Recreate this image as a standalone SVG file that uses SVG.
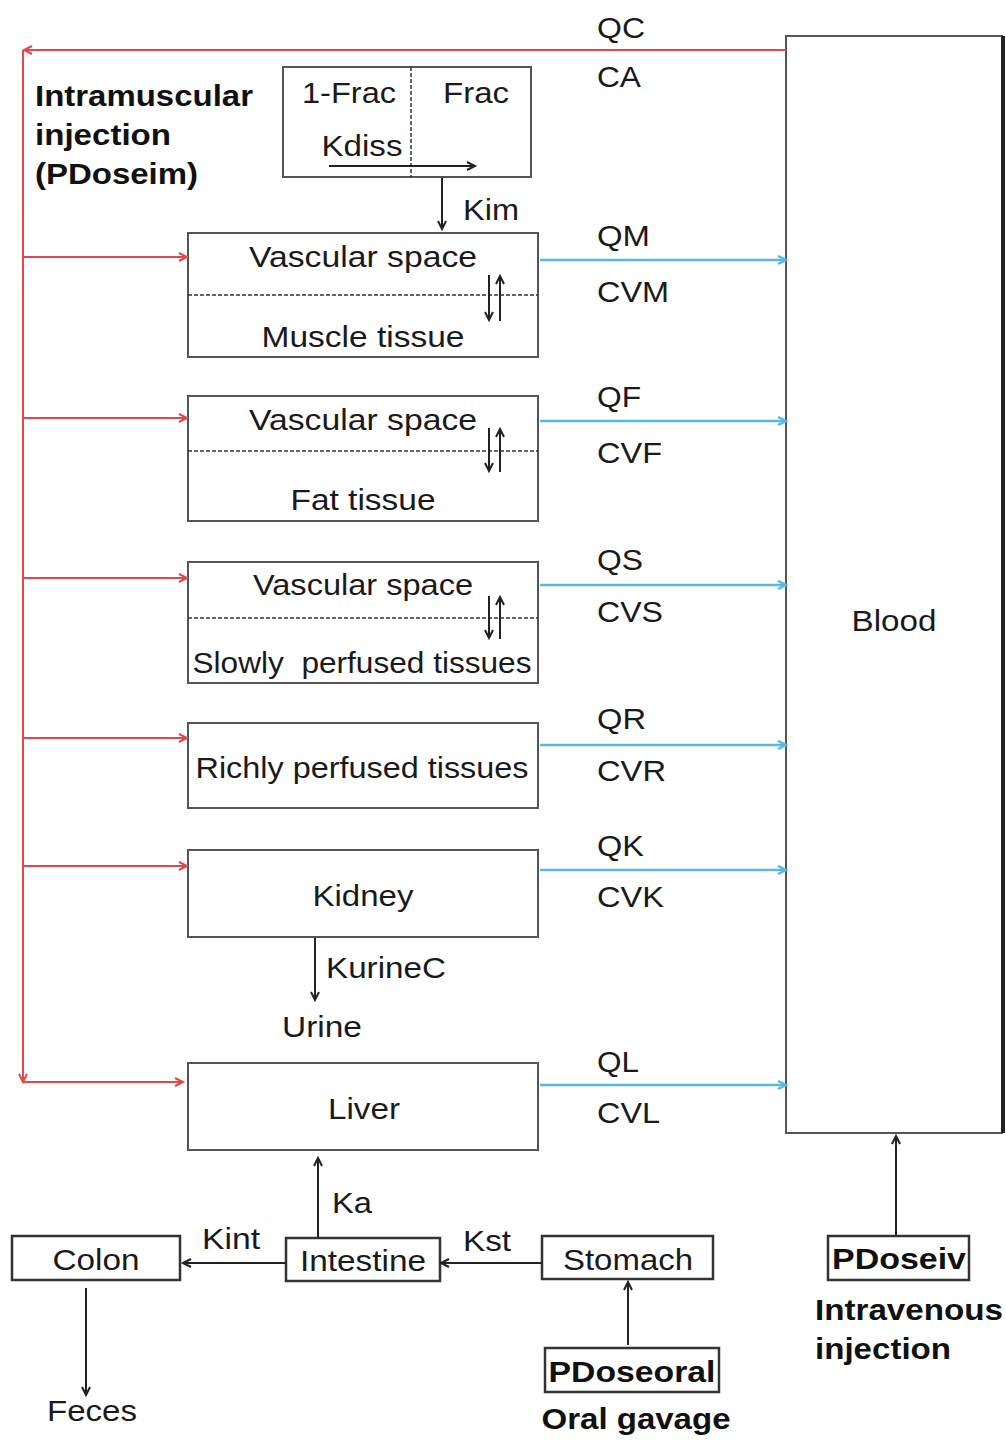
<svg xmlns="http://www.w3.org/2000/svg" width="1006" height="1440" viewBox="0 0 1006 1440">
<style>
.t{font-family:"Liberation Sans",Arial,sans-serif;font-size:29px;fill:#1a1a1a}
.b{font-family:"Liberation Sans",Arial,sans-serif;font-size:29px;font-weight:bold;fill:#111}
.m{text-anchor:middle}
.box{fill:#fff;stroke:#555;stroke-width:2}
.sbox{fill:#fff;stroke:#333;stroke-width:2.5}
.dash{stroke:#333;stroke-width:1.5;stroke-dasharray:4,2;fill:none}
.red{stroke:#e2474a;stroke-width:2;fill:none}
.blue{stroke:#5ab8e0;stroke-width:2.5;fill:none}
.blk{stroke:#222;stroke-width:2;fill:none}
</style>
<defs>
<marker id="ar" markerUnits="userSpaceOnUse" markerWidth="12" markerHeight="12" refX="9" refY="5" orient="auto"><path d="M1,1 L9,5 L1,9" fill="none" stroke="#e2474a" stroke-width="2"/></marker>
<marker id="ab" markerUnits="userSpaceOnUse" markerWidth="12" markerHeight="12" refX="9" refY="5" orient="auto"><path d="M1,1 L9,5 L1,9" fill="none" stroke="#5ab8e0" stroke-width="2.5"/></marker>
<marker id="ak" markerUnits="userSpaceOnUse" markerWidth="12" markerHeight="12" refX="9" refY="5" orient="auto"><path d="M1,1 L9,5 L1,9" fill="none" stroke="#222" stroke-width="2"/></marker>
</defs>

<g id="blood">
<rect class="box" x="786" y="36" width="216" height="1097"/>
<line x1="1003" y1="36" x2="1003" y2="1133" stroke="#222" stroke-width="4"/>
<text class="t m" x="894" y="631" textLength="85" lengthAdjust="spacingAndGlyphs">Blood</text>
</g>

<g id="im-label">
<text class="b" x="35" y="106" textLength="218" lengthAdjust="spacingAndGlyphs">Intramuscular</text>
<text class="b" x="35" y="145" textLength="136" lengthAdjust="spacingAndGlyphs">injection</text>
<text class="b" x="35" y="184" textLength="163" lengthAdjust="spacingAndGlyphs">(PDoseim)</text>
</g>

<g id="frac">
<rect class="box" x="283" y="67" width="248" height="110"/>
<line class="dash" x1="411" y1="67" x2="411" y2="177"/>
<text class="t m" x="349" y="103" textLength="94" lengthAdjust="spacingAndGlyphs">1-Frac</text>
<text class="t m" x="476" y="103" textLength="66" lengthAdjust="spacingAndGlyphs">Frac</text>
<text class="t m" x="362" y="156" textLength="81" lengthAdjust="spacingAndGlyphs">Kdiss</text>
<line class="blk" x1="329" y1="166" x2="475" y2="166" marker-end="url(#ak)"/>
</g>

<g id="muscle">
<rect class="box" x="188" y="233" width="350" height="124"/>
<line class="dash" x1="188" y1="295" x2="538" y2="295"/>
<text class="t m" x="363" y="267" textLength="228" lengthAdjust="spacingAndGlyphs">Vascular space</text>
<text class="t m" x="363" y="347" textLength="203" lengthAdjust="spacingAndGlyphs">Muscle tissue</text>
<line class="blk" x1="489" y1="275" x2="489" y2="320" marker-end="url(#ak)"/>
<line class="blk" x1="500" y1="321" x2="500" y2="276" marker-end="url(#ak)"/>
</g>

<g id="fat">
<rect class="box" x="188" y="396" width="350" height="125"/>
<line class="dash" x1="188" y1="451" x2="538" y2="451"/>
<text class="t m" x="363" y="430" textLength="228" lengthAdjust="spacingAndGlyphs">Vascular space</text>
<text class="t m" x="363" y="510" textLength="145" lengthAdjust="spacingAndGlyphs">Fat tissue</text>
<line class="blk" x1="489" y1="428" x2="489" y2="471" marker-end="url(#ak)"/>
<line class="blk" x1="500" y1="472" x2="500" y2="429" marker-end="url(#ak)"/>
</g>

<g id="slowly">
<rect class="box" x="188" y="562" width="350" height="121"/>
<line class="dash" x1="188" y1="618" x2="538" y2="618"/>
<text class="t m" x="363" y="595" textLength="220" lengthAdjust="spacingAndGlyphs">Vascular space</text>
<text class="t m" x="362" y="673" textLength="339" lengthAdjust="spacingAndGlyphs">Slowly&#160; perfused tissues</text>
<line class="blk" x1="489" y1="596" x2="489" y2="638" marker-end="url(#ak)"/>
<line class="blk" x1="500" y1="639" x2="500" y2="597" marker-end="url(#ak)"/>
</g>

<g id="richly">
<rect class="box" x="188" y="723" width="350" height="85"/>
<text class="t m" x="362" y="778" textLength="333" lengthAdjust="spacingAndGlyphs">Richly perfused tissues</text>
</g>

<g id="kidney">
<rect class="box" x="188" y="850" width="350" height="87"/>
<text class="t m" x="363" y="906" textLength="101" lengthAdjust="spacingAndGlyphs">Kidney</text>
</g>

<g id="urine">
<text class="t m" x="322" y="1037" textLength="80" lengthAdjust="spacingAndGlyphs">Urine</text>
</g>

<g id="liver">
<rect class="box" x="188" y="1063" width="350" height="87"/>
<text class="t m" x="364" y="1119" textLength="72" lengthAdjust="spacingAndGlyphs">Liver</text>
</g>

<g id="colon">
<rect class="sbox" x="12" y="1236" width="168" height="44"/>
<text class="t m" x="96" y="1270" textLength="87" lengthAdjust="spacingAndGlyphs">Colon</text>
</g>

<g id="intestine">
<rect class="sbox" x="286" y="1238" width="154" height="43"/>
<text class="t m" x="363" y="1271" textLength="126" lengthAdjust="spacingAndGlyphs">Intestine</text>
</g>

<g id="stomach">
<rect class="sbox" x="542" y="1236" width="171" height="43"/>
<text class="t m" x="628" y="1270" textLength="130" lengthAdjust="spacingAndGlyphs">Stomach</text>
</g>

<g id="feces">
<text class="t m" x="92" y="1421" textLength="90" lengthAdjust="spacingAndGlyphs">Feces</text>
</g>

<g id="pdoseoral">
<rect class="sbox" x="545" y="1348" width="174" height="44"/>
<text class="b m" x="632" y="1382" textLength="167" lengthAdjust="spacingAndGlyphs">PDoseoral</text>
<text class="b m" x="636" y="1429" textLength="189" lengthAdjust="spacingAndGlyphs">Oral gavage</text>
</g>

<g id="pdoseiv">
<rect class="sbox" x="828" y="1236" width="141" height="44"/>
<text class="b m" x="899" y="1269" textLength="134" lengthAdjust="spacingAndGlyphs">PDoseiv</text>
<text class="b" x="815" y="1320" textLength="188" lengthAdjust="spacingAndGlyphs">Intravenous</text>
<text class="b" x="815" y="1359" textLength="136" lengthAdjust="spacingAndGlyphs">injection</text>
</g>

<g id="connectors">
<line class="red" x1="786" y1="50" x2="24" y2="50" marker-end="url(#ar)"/>
<line class="red" x1="23" y1="50" x2="23" y2="1082" marker-end="url(#ar)"/>
<line class="red" x1="23" y1="257" x2="187" y2="257" marker-end="url(#ar)"/>
<line class="red" x1="23" y1="418" x2="187" y2="418" marker-end="url(#ar)"/>
<line class="red" x1="23" y1="578" x2="187" y2="578" marker-end="url(#ar)"/>
<line class="red" x1="23" y1="738" x2="187" y2="738" marker-end="url(#ar)"/>
<line class="red" x1="23" y1="866" x2="187" y2="866" marker-end="url(#ar)"/>
<line class="red" x1="23" y1="1082" x2="183" y2="1082" marker-end="url(#ar)"/>

<line class="blue" x1="540" y1="260" x2="786" y2="260" marker-end="url(#ab)"/>
<line class="blue" x1="540" y1="421" x2="786" y2="421" marker-end="url(#ab)"/>
<line class="blue" x1="540" y1="585" x2="786" y2="585" marker-end="url(#ab)"/>
<line class="blue" x1="540" y1="745" x2="786" y2="745" marker-end="url(#ab)"/>
<line class="blue" x1="540" y1="870" x2="786" y2="870" marker-end="url(#ab)"/>
<line class="blue" x1="540" y1="1085" x2="786" y2="1085" marker-end="url(#ab)"/>

<line class="blk" x1="442" y1="178" x2="442" y2="229" marker-end="url(#ak)"/>
<line class="blk" x1="315" y1="938" x2="315" y2="1000" marker-end="url(#ak)"/>
<line class="blk" x1="318" y1="1237" x2="318" y2="1158" marker-end="url(#ak)"/>
<line class="blk" x1="286" y1="1263" x2="183" y2="1263" marker-end="url(#ak)"/>
<line class="blk" x1="542" y1="1263" x2="441" y2="1263" marker-end="url(#ak)"/>
<line class="blk" x1="86" y1="1288" x2="86" y2="1395" marker-end="url(#ak)"/>
<line class="blk" x1="628" y1="1345" x2="628" y2="1282" marker-end="url(#ak)"/>
<line class="blk" x1="896" y1="1235" x2="896" y2="1136" marker-end="url(#ak)"/>

<text class="t" x="597" y="38" textLength="48" lengthAdjust="spacingAndGlyphs">QC</text>
<text class="t" x="597" y="87" textLength="44" lengthAdjust="spacingAndGlyphs">CA</text>
<text class="t" x="463" y="220" textLength="56" lengthAdjust="spacingAndGlyphs">Kim</text>
<text class="t" x="597" y="246" textLength="53" lengthAdjust="spacingAndGlyphs">QM</text>
<text class="t" x="597" y="302" textLength="72" lengthAdjust="spacingAndGlyphs">CVM</text>
<text class="t" x="597" y="407" textLength="44" lengthAdjust="spacingAndGlyphs">QF</text>
<text class="t" x="597" y="463" textLength="65" lengthAdjust="spacingAndGlyphs">CVF</text>
<text class="t" x="597" y="570" textLength="46" lengthAdjust="spacingAndGlyphs">QS</text>
<text class="t" x="597" y="622" textLength="66" lengthAdjust="spacingAndGlyphs">CVS</text>
<text class="t" x="597" y="729" textLength="49" lengthAdjust="spacingAndGlyphs">QR</text>
<text class="t" x="597" y="781" textLength="69" lengthAdjust="spacingAndGlyphs">CVR</text>
<text class="t" x="597" y="856" textLength="47" lengthAdjust="spacingAndGlyphs">QK</text>
<text class="t" x="597" y="907" textLength="67" lengthAdjust="spacingAndGlyphs">CVK</text>
<text class="t" x="326" y="978" textLength="120" lengthAdjust="spacingAndGlyphs">KurineC</text>
<text class="t" x="597" y="1072" textLength="42" lengthAdjust="spacingAndGlyphs">QL</text>
<text class="t" x="597" y="1123" textLength="63" lengthAdjust="spacingAndGlyphs">CVL</text>
<text class="t" x="332" y="1213" textLength="40" lengthAdjust="spacingAndGlyphs">Ka</text>
<text class="t" x="202" y="1249" textLength="58" lengthAdjust="spacingAndGlyphs">Kint</text>
<text class="t" x="463" y="1251" textLength="48" lengthAdjust="spacingAndGlyphs">Kst</text>
</g>
</svg>
